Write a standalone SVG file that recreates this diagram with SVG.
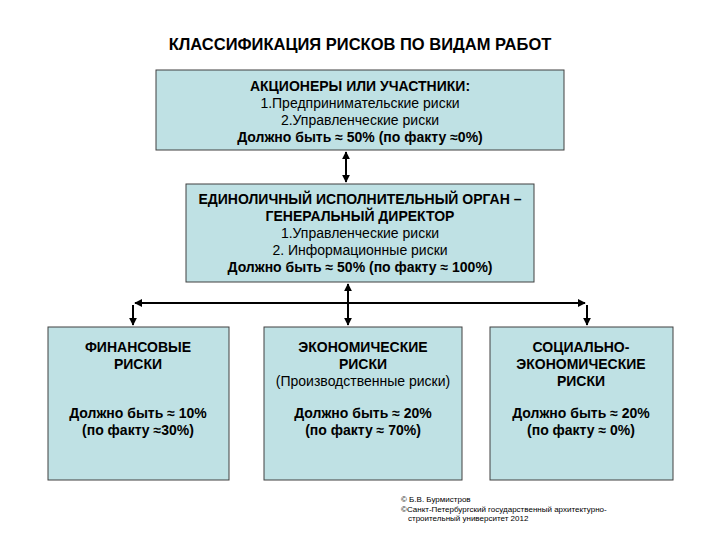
<svg xmlns="http://www.w3.org/2000/svg" width="720" height="540" viewBox="0 0 720 540">
<style>
.b{fill:#bfe1e4;stroke:#404040;stroke-width:1}
text{font-family:"Liberation Sans",Arial,sans-serif;font-size:14px;fill:#000;text-anchor:middle}
.t{font-weight:bold}
.c{stroke:#000;stroke-width:2;fill:none}
.s{font-size:8px;text-anchor:start}
</style>
<defs>
<marker id="a" viewBox="0 0 10 10" refX="9" refY="5" markerWidth="4" markerHeight="4" orient="auto-start-reverse"><path d="M0,0L10,5L0,10z" fill="#000"/></marker>
</defs>
<rect width="720" height="540" fill="#fff"/>
<text x="360" y="50" class="t" style="font-size:16.5px">КЛАССИФИКАЦИЯ РИСКОВ ПО ВИДАМ РАБОТ</text>
<g id="connectors">
<path class="c" d="M346,152V182" marker-start="url(#a)" marker-end="url(#a)"/>
<path class="c" d="M348,284V303"  marker-start="url(#a)"/>
<path class="c" d="M348,303V325" marker-end="url(#a)"/>
<path class="c" d="M135,303H585" marker-start="url(#a)" marker-end="url(#a)"/>
<path class="c" d="M133,305V325" marker-end="url(#a)"/>
<path class="c" d="M587,305V325" marker-end="url(#a)"/>
</g>
<g id="top">
<rect class="b" x="156" y="70" width="408" height="80"/>
<text x="360" y="91" class="t">АКЦИОНЕРЫ ИЛИ УЧАСТНИКИ:</text>
<text x="360" y="108">1.Предпринимательские риски</text>
<text x="360" y="125">2.Управленческие риски</text>
<text x="360" y="142" class="t">Должно быть ≈ 50% (по факту ≈0%)</text>
</g>
<g id="mid">
<rect class="b" x="186" y="184" width="348" height="98"/>
<text x="360" y="204" class="t">ЕДИНОЛИЧНЫЙ ИСПОЛНИТЕЛЬНЫЙ ОРГАН –</text>
<text x="360" y="221" class="t">ГЕНЕРАЛЬНЫЙ ДИРЕКТОР</text>
<text x="360" y="238">1.Управленческие риски</text>
<text x="360" y="255">2. Информационные риски</text>
<text x="360" y="272" class="t">Должно быть ≈ 50% (по факту ≈ 100%)</text>
</g>
<g id="fin">
<rect class="b" x="48" y="327" width="181" height="153"/>
<text x="138" y="352" class="t">ФИНАНСОВЫЕ</text>
<text x="138" y="369" class="t">РИСКИ</text>
<text x="138" y="418" class="t">Должно быть ≈ 10%</text>
<text x="138" y="435" class="t">(по факту ≈30%)</text>
</g>
<g id="eco">
<rect class="b" x="264" y="327" width="198" height="153"/>
<text x="363" y="352" class="t">ЭКОНОМИЧЕСКИЕ</text>
<text x="363" y="369" class="t">РИСКИ</text>
<text x="363" y="386">(Производственные риски)</text>
<text x="363" y="418" class="t">Должно быть ≈ 20%</text>
<text x="363" y="435" class="t">(по факту ≈ 70%)</text>
</g>
<g id="soc">
<rect class="b" x="490" y="327" width="183" height="153"/>
<text x="581" y="352" class="t">СОЦИАЛЬНО-</text>
<text x="581" y="369" class="t">ЭКОНОМИЧЕСКИЕ</text>
<text x="581" y="386" class="t">РИСКИ</text>
<text x="581" y="418" class="t">Должно быть ≈ 20%</text>
<text x="581" y="435" class="t">(по факту ≈ 0%)</text>
</g>
<g id="credits">
<text x="401" y="502" class="s">© Б.В. Бурмистров</text>
<text x="401" y="512" class="s">©Санкт-Петербургский государственный архитектурно-</text>
<text x="408" y="521" class="s">строительный университет 2012</text>
</g>
</svg>
